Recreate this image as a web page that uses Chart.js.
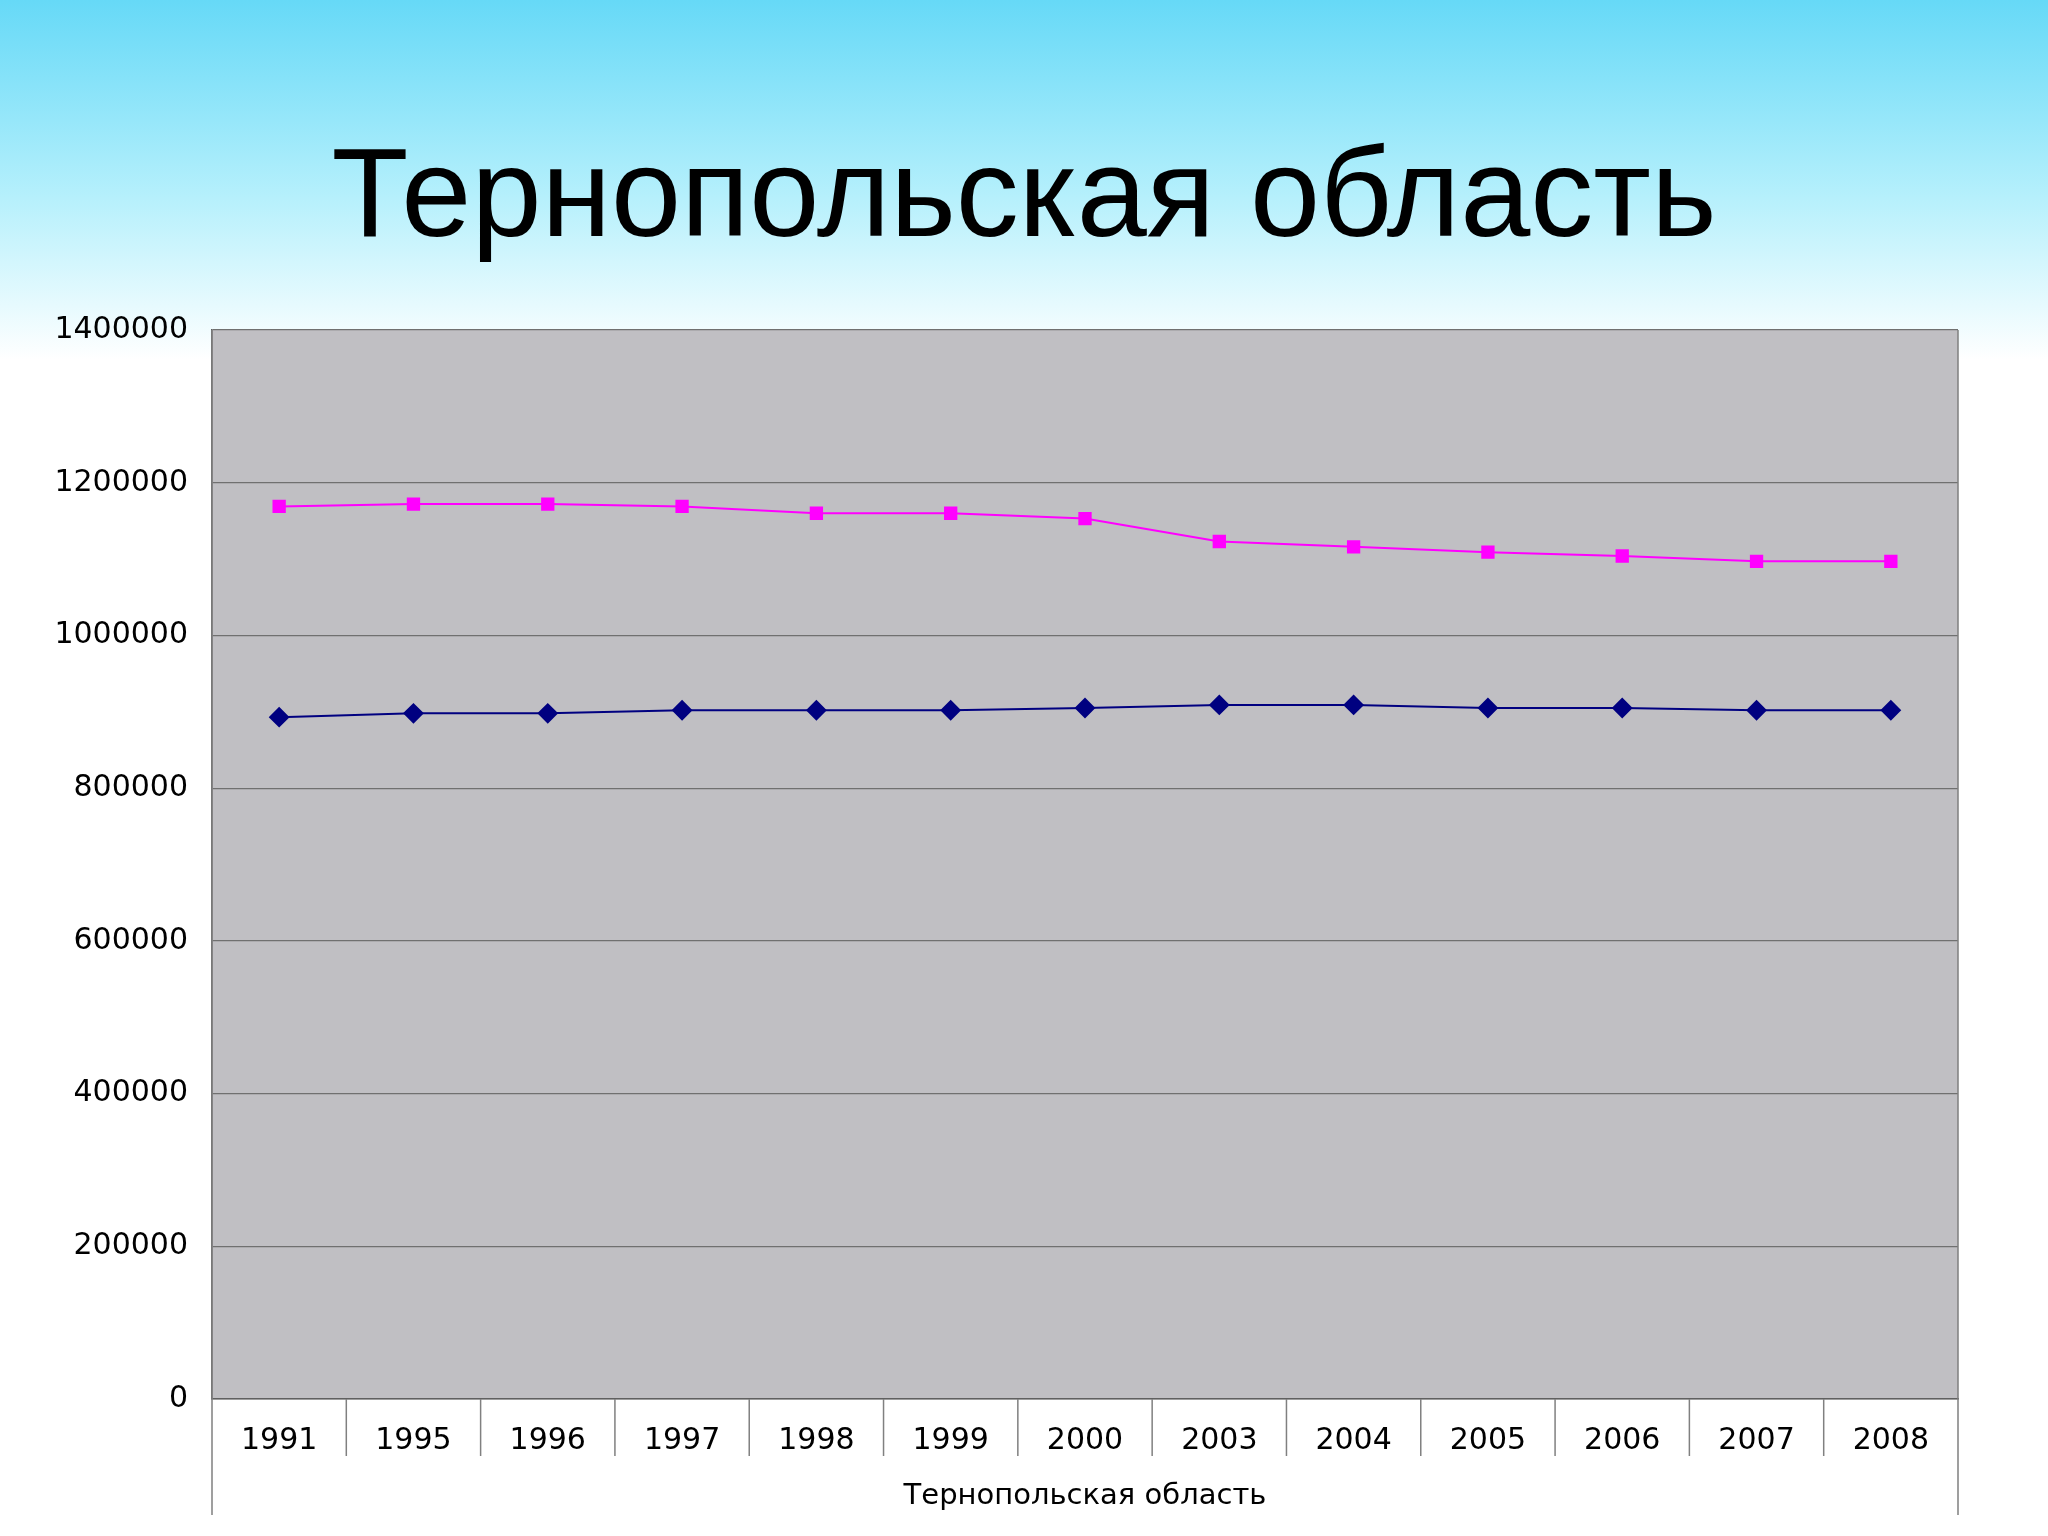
<!DOCTYPE html>
<html>
<head>
<meta charset="utf-8">
<script src="https://cdn.jsdelivr.net/npm/chart.js@4"></script>
<style>
  body { margin: 0; background: #fff; }
  #wrap { position: relative; width: 2048px; height: 1536px; }
  h1 { position: absolute; top: 120px; left: 0; width: 2048px; margin: 0; text-align: center;
       font: 126px "Liberation Sans", Arial, sans-serif; color: #000; z-index: 2; }
  canvas { position: absolute; left: 0; top: 0; }
</style>
</head>
<body>
<div id="wrap">
  <h1>Тернопольская область</h1>
  <canvas id="chart" width="2048" height="1536"></canvas>
</div>
<script>
// данные графика
const years = ['1991', '1995', '1996', '1997', '1998', '1999', '2000', '2003', '2004', '2005', '2006', '2007', '2008'];
const seriesPink = [1169000, 1172000, 1172000, 1169000, 1160000, 1160000, 1153000, 1123000, 1116000, 1109000, 1104000, 1097000, 1097000];
const seriesBlue = [893000, 898000, 898000, 902000, 902000, 902000, 905000, 909000, 909000, 905000, 905000, 902000, 902000];
const axisTitle = 'Тернопольская область';

// фон слайда и рамка оси категорий
const slidePlugin = {
    id: 'slide',
    beforeDraw(chart) {
        const ctx = chart.ctx;
        const g = ctx.createLinearGradient(0, 0, 0, 360);
        g.addColorStop(0, '#66d9f7');
        g.addColorStop(0.55, '#b6f0fc');
        g.addColorStop(1, '#ffffff');
        ctx.save();
        ctx.fillStyle = g;
        ctx.fillRect(0, 0, chart.width, chart.height);
        const a = chart.chartArea;
        ctx.fillStyle = '#c0bfc3';
        ctx.fillRect(a.left, a.top, a.right - a.left, a.bottom - a.top);
        ctx.restore();
    },
    afterDraw(chart) {
        const ctx = chart.ctx;
        const a = chart.chartArea;
        const x = chart.scales.x;
        ctx.save();
        ctx.strokeStyle = '#808080';
        ctx.lineWidth = 1.5;
        ctx.beginPath();
        for (let i = 1; i < years.length; i++) {
            const px = (x.getPixelForValue(i - 1) + x.getPixelForValue(i)) / 2;
            ctx.moveTo(px, a.bottom);
            ctx.lineTo(px, a.bottom + 57);
        }
        ctx.moveTo(a.left, a.top);
        ctx.lineTo(a.left, 1515);
        ctx.moveTo(a.right, a.top);
        ctx.lineTo(a.right, 1515);
        ctx.stroke();
        ctx.restore();
    }
};

new Chart(document.getElementById('chart').getContext('2d'), {
    type: 'line',
    data: {
        labels: years,
        datasets: [
            {
                data: seriesPink,
                borderColor: '#ff00ff',
                backgroundColor: '#ff00ff',
                borderWidth: 2,
                pointStyle: 'rect',
                pointRadius: 8,
                tension: 0
            },
            {
                data: seriesBlue,
                borderColor: '#000080',
                backgroundColor: '#000080',
                borderWidth: 2,
                pointStyle: 'rectRot',
                pointRadius: 9,
                tension: 0
            }
        ]
    },
    options: {
        responsive: false,
        animation: false,
        layout: { padding: { top: 330, right: 90, left: 0, bottom: 0 } },
        plugins: { legend: { display: false }, tooltip: { enabled: false } },
        scales: {
            x: {
                offset: true,
                grid: { display: false },
                border: { color: '#606060', width: 1.5 },
                ticks: { color: '#000', padding: 16, maxRotation: 0, font: { family: 'DejaVu Sans', size: 30 } },
                title: { display: true, text: axisTitle, color: '#000', padding: { top: 0, bottom: 22 }, font: { family: 'DejaVu Sans', size: 29 } },
                afterFit(s) { s.height = 137; }
            },
            y: {
                min: 0,
                max: 1400000,
                ticks: { stepSize: 200000, color: '#000', padding: 24, font: { family: 'DejaVu Sans', size: 30 },
                         callback: v => String(v) },
                grid: { color: '#707070', lineWidth: 1.2, drawTicks: false },
                border: { color: '#606060', width: 1.5 },
                afterFit(s) { s.width = 212; }
            }
        }
    },
    plugins: [slidePlugin]
});
</script>
</body>
</html>
